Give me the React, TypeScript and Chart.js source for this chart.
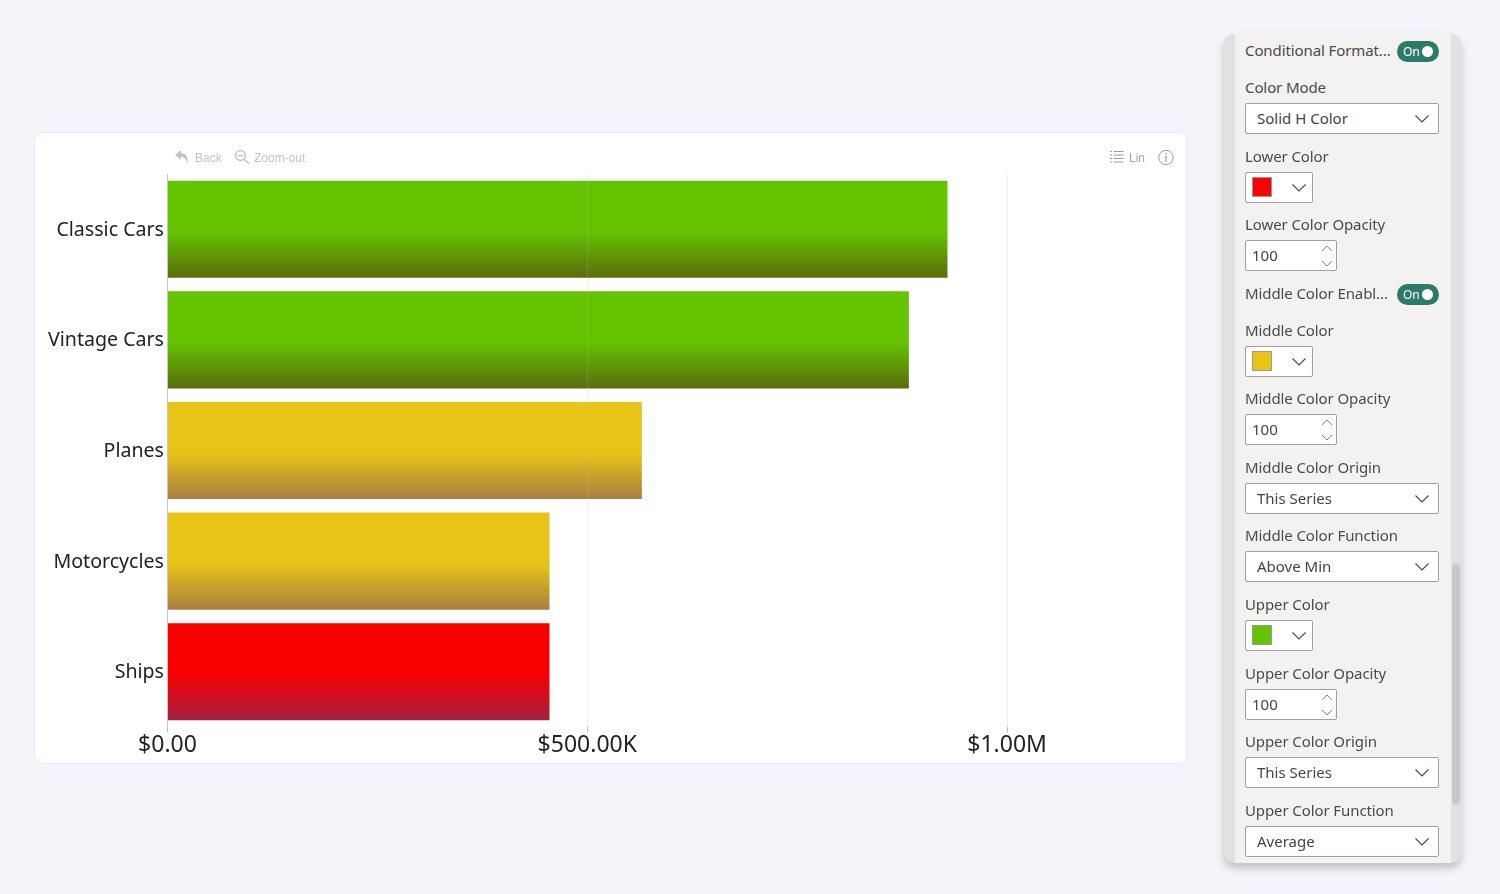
import React, { useEffect, useRef } from "react";
import { Chart, registerables } from "chart.js";

Chart.register(...registerables);

const categories = ["Classic Cars", "Vintage Cars", "Planes", "Motorcycles", "Ships"];
const salesValues = [929000, 883000, 565000, 455000, 455000];
const topColors = ["#64c400", "#64c400", "#e8c417", "#e8c417", "#f70000"];
const bottomColors = ["#5a6c0c", "#5a6c0c", "#a97f40", "#a97f40", "#a32040"];
const axisMax = 1200000;
const tickValues = [0, 500000, 1000000];
const tickLabels = ["$0.00", "$500.00K", "$1.00M"];

const UI_FONT = '"Noto Sans", sans-serif';

type Row =
  | { kind: "toggle"; label: string; y: number }
  | { kind: "select"; label: string; value: string; y: number }
  | { kind: "color"; label: string; color: string; y: number }
  | { kind: "number"; label: string; value: string; y: number };

const panelRows: Row[] = [
  { kind: "toggle", label: "Conditional Format...", y: 51 },
  { kind: "select", label: "Color Mode", value: "Solid H Color", y: 88 },
  { kind: "color", label: "Lower Color", color: "#ff0000", y: 157 },
  { kind: "number", label: "Lower Color Opacity", value: "100", y: 225 },
  { kind: "toggle", label: "Middle Color Enabl...", y: 294 },
  { kind: "color", label: "Middle Color", color: "#e8c417", y: 331 },
  { kind: "number", label: "Middle Color Opacity", value: "100", y: 399 },
  { kind: "select", label: "Middle Color Origin", value: "This Series", y: 468 },
  { kind: "select", label: "Middle Color Function", value: "Above Min", y: 536 },
  { kind: "color", label: "Upper Color", color: "#64c400", y: 605 },
  { kind: "number", label: "Upper Color Opacity", value: "100", y: 674 },
  { kind: "select", label: "Upper Color Origin", value: "This Series", y: 742 },
  { kind: "select", label: "Upper Color Function", value: "Average", y: 811 },
];

const abs = (left: number, top: number, width: number, height: number): React.CSSProperties => ({
  position: "absolute",
  left,
  top,
  width,
  height,
  boxSizing: "border-box",
});

const Chevron = ({ x, y }: { x: number; y: number }) => (
  <svg style={{ position: "absolute", left: x, top: y }} width="16" height="10" viewBox="0 0 16 10">
    <path d="M1.5 1.5 L8 8 L14.5 1.5" fill="none" stroke="#444" strokeWidth="1.1" />
  </svg>
);

const labelStyle = (y: number): React.CSSProperties => ({
  position: "absolute",
  left: 1245,
  top: y - 12,
  height: 22,
  lineHeight: "22px",
  fontSize: 15,
  color: "#4a4a4a",
  whiteSpace: "nowrap",
  letterSpacing: -0.1,
});

const fieldBox: React.CSSProperties = {
  background: "#fff",
  border: "1px solid #a0a0a0",
  borderRadius: 2,
};

function PanelRow({ row }: { row: Row }) {
  const y = row.y;
  if (row.kind === "toggle") {
    return (
      <>
        <div style={labelStyle(y)}>{row.label}</div>
        <div style={{ ...abs(1397, y - 10, 42, 21), background: "#2c7a68", borderRadius: 11 }}>
          <span style={{ position: "absolute", left: 6, top: 2, fontSize: 12, lineHeight: "17px", color: "#fff" }}>On</span>
          <span style={{ position: "absolute", left: 25, top: 5, width: 11, height: 11, borderRadius: 6, background: "#fff" }} />
        </div>
      </>
    );
  }
  return (
    <>
      <div style={labelStyle(y)}>{row.label}</div>
      {row.kind === "select" && (
        <div style={{ ...abs(1245, y + 15, 194, 31), ...fieldBox }}>
          <span style={{ position: "absolute", left: 11, top: 4, fontSize: 15, lineHeight: "20px", color: "#444" }}>{row.value}</span>
          <Chevron x={168} y={10} />
        </div>
      )}
      {row.kind === "color" && (
        <div style={{ ...abs(1245, y + 15, 68, 31), ...fieldBox }}>
          <span style={{ position: "absolute", left: 6, top: 4, width: 20, height: 20, boxSizing: "border-box", background: row.color, border: "1px solid #999" }} />
          <Chevron x={45} y={10} />
        </div>
      )}
      {row.kind === "number" && (
        <div style={{ ...abs(1245, y + 15, 92, 31), ...fieldBox }}>
          <span style={{ position: "absolute", left: 6, top: 4, fontSize: 15, lineHeight: "20px", color: "#444" }}>{row.value}</span>
          <svg style={{ position: "absolute", left: 75, top: 3 }} width="12" height="24" viewBox="0 0 12 24">
            <path d="M1 7 L6 2 L11 7 M1 17 L6 22 L11 17" fill="none" stroke="#888" strokeWidth="1" />
          </svg>
        </div>
      )}
    </>
  );
}

export default function App() {
  const ref = useRef<HTMLCanvasElement>(null);

  useEffect(() => {
    document.body.style.margin = "0";
    document.body.style.background = "#f4f5fa";
    const barPct = 0.878;
    const chart = new Chart(ref.current!, {
      type: "bar",
      data: {
        labels: categories,
        datasets: [
          {
            data: salesValues,
            barPercentage: barPct,
            categoryPercentage: 1,
            borderWidth: 0,
            backgroundColor: (ctx: any) => {
              const c = ctx.chart;
              const i = ctx.dataIndex ?? 0;
              const yScale = c.scales?.y;
              if (!yScale || !c.ctx) return topColors[i];
              const cy = yScale.getPixelForValue(i);
              const half = ((yScale.bottom - yScale.top) / categories.length) * barPct * 0.5;
              if (!Number.isFinite(cy) || !Number.isFinite(half) || half <= 0) return topColors[i];
              const g = c.ctx.createLinearGradient(0, cy - half, 0, cy + half);
              g.addColorStop(0, topColors[i]);
              g.addColorStop(0.52, topColors[i]);
              g.addColorStop(1, bottomColors[i]);
              return g;
            },
          },
        ],
      },
      options: {
        indexAxis: "y",
        animation: false,
        responsive: false,
        layout: { padding: { top: 41, right: 11, left: 0, bottom: 0 } },
        plugins: { legend: { display: false }, tooltip: { enabled: false } },
        scales: {
          x: {
            min: 0,
            max: axisMax,
            afterBuildTicks: (s: any) => {
              s.ticks = tickValues.map((value) => ({ value }));
            },
            afterFit: (s: any) => {
              s.height = 36;
            },
            grid: { color: "rgba(190,190,190,0.22)", z: 1, drawTicks: true, tickLength: 5, tickColor: "#bbb" },
            border: { display: false },
            ticks: {
              autoSkip: false,
              maxRotation: 0,
              padding: 0,
              color: "#222",
              font: { family: UI_FONT, size: 23 },
              callback: (v: any) => tickLabels[tickValues.indexOf(Number(v))] ?? "",
            },
          },
          y: {
            afterFit: (s: any) => {
              s.width = 132.5;
            },
            grid: { display: false, drawTicks: false },
            border: { display: true, color: "#c8c8c8" },
            ticks: { padding: 3.5, labelOffset: 1, color: "#222", font: { family: UI_FONT, size: 19.6 } },
          },
        },
      },
    } as any);
    chart.update();
    return () => chart.destroy();
  }, []);

  return (
    <div style={{ position: "relative", width: 1500, height: 894, fontFamily: UI_FONT, overflow: "hidden", background: "#f4f5fa" }}>
      <div style={{ ...abs(34, 132, 1153, 632), background: "#fff", border: "1px solid #e9ebf3", borderRadius: 8 }} />
      <canvas ref={ref} width={1151} height={630} style={{ position: "absolute", left: 35, top: 133, width: 1151, height: 630 }} />

      <svg style={{ position: "absolute", left: 174, top: 149 }} width="16" height="16" viewBox="0 0 16 16">
        <path d="M7 1 L1 6 L7 11 V8 C10 8 12 9.5 13 15 C15 8 12 4 7 4 Z" fill="#c4c4c4" />
      </svg>
      <div style={{ position: "absolute", left: 195, top: 151, fontFamily: "Liberation Sans", fontSize: 12, lineHeight: "15px", color: "#c4c4c4" }}>Back</div>
      <svg style={{ position: "absolute", left: 234, top: 149 }} width="16" height="16" viewBox="0 0 16 16">
        <circle cx="6.5" cy="6.5" r="5" fill="none" stroke="#c4c4c4" strokeWidth="1.4" />
        <path d="M4 6.5 H9 M10.5 10.5 L15 15" stroke="#c4c4c4" strokeWidth="1.6" fill="none" />
      </svg>
      <div style={{ position: "absolute", left: 254, top: 151, fontFamily: "Liberation Sans", fontSize: 12, lineHeight: "15px", color: "#c4c4c4" }}>Zoom-out</div>
      <svg style={{ position: "absolute", left: 1110, top: 150 }} width="14" height="14" viewBox="0 0 14 14">
        <path d="M0 1.5 H2 M3.5 1.5 H13.5 M0 5 H2 M3.5 5 H13.5 M0 8.5 H2 M3.5 8.5 H13.5 M0 12 H2 M3.5 12 H13.5" stroke="#9a9a9a" strokeWidth="1" fill="none" />
      </svg>
      <div style={{ position: "absolute", left: 1129, top: 151, fontFamily: "Liberation Sans", fontSize: 12, lineHeight: "15px", color: "#a8a8a8" }}>Lin</div>
      <svg style={{ position: "absolute", left: 1158, top: 149 }} width="16" height="17" viewBox="0 0 16 17">
        <circle cx="8" cy="8.5" r="7.2" fill="none" stroke="#9a9a9a" strokeWidth="1" />
        <path d="M8 7 V13 M8 4 V5.4" stroke="#9a9a9a" strokeWidth="1.2" fill="none" />
      </svg>

      <div
        style={{
          ...abs(1224, 34, 237, 829),
          background: "#e2e1df",
          borderRadius: 10,
          boxShadow: "0 5px 8px rgba(0,0,0,0.22)",
        }}
      />
      <div style={{ ...abs(1235, 34, 216, 829), background: "#f3f2f1" }} />
      <div style={{ ...abs(1452, 564, 8, 241), background: "#c9c8c6", borderRadius: 4 }} />
      {panelRows.map((r) => (
        <PanelRow key={r.label} row={r} />
      ))}
    </div>
  );
}
